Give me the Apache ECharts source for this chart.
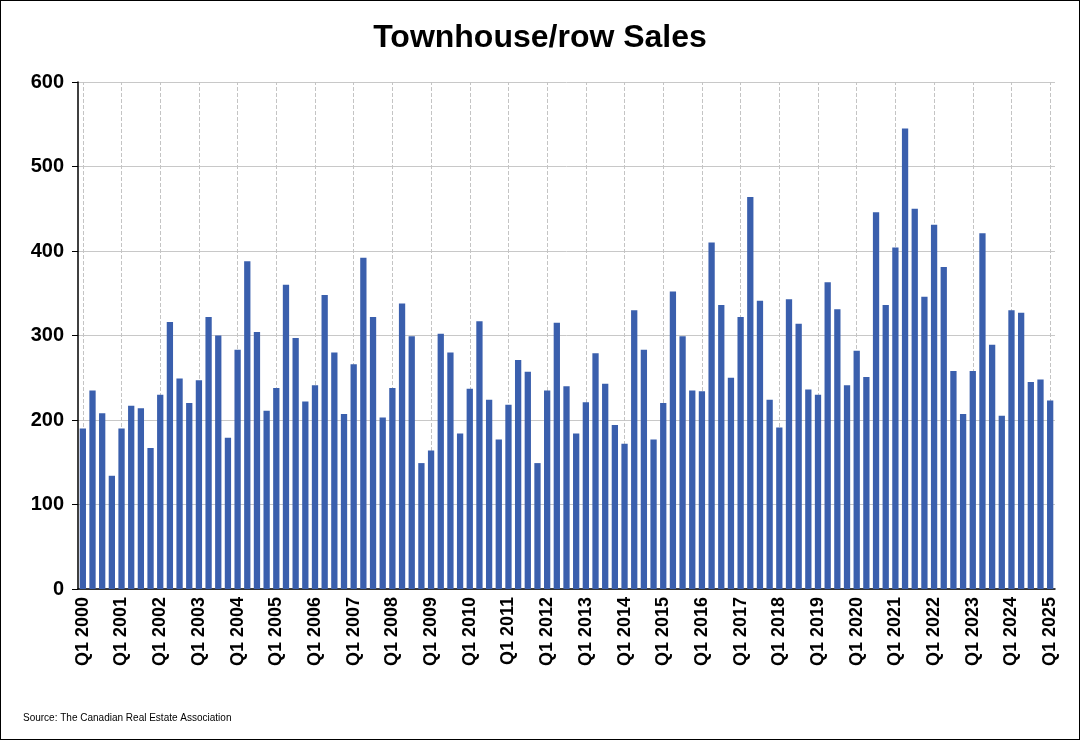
<!DOCTYPE html>
<html><head><meta charset="utf-8">
<script src="https://cdn.jsdelivr.net/npm/echarts@6/dist/echarts.min.js"></script>
<style>html,body{margin:0;padding:0;background:#fff}#c{width:1080px;height:740px;box-sizing:border-box;border:1px solid #000}</style>
</head><body><div id="c"></div>
<script>
var years = [];
for (var y = 2000; y <= 2025; y++) years.push(y);
var sales = [
  190, 235, 208, 134,
  190, 217, 214, 167,
  230, 316, 249, 220,
  247, 322, 300, 179,
  283, 388, 304, 211,
  238, 360, 297, 222,
  241, 348, 280, 207,
  266, 392, 322, 203,
  238, 338, 299, 149,
  164, 302, 280, 184,
  237, 317, 224, 177,
  218, 271, 257, 149,
  235, 315, 240, 184,
  221, 279, 243, 194,
  172, 330, 283, 177,
  220, 352, 299, 235,
  234, 410, 336, 250,
  322, 464, 341, 224,
  191, 343, 314, 236,
  230, 363, 331, 241,
  282, 251, 446, 336,
  404, 545, 450, 346,
  431, 381, 258, 207,
  258, 421, 289, 205,
  330, 327, 245, 248,
  223
];
var quarters = [];
years.forEach(function (y) {
  for (var q = 1; q <= 4; q++) quarters.push('Q' + q + ' ' + y);
});
quarters = quarters.slice(0, sales.length);
var q1Lines = quarters.filter(function (q) { return q.indexOf('Q1') === 0; })
  .map(function (q) { return { xAxis: q }; });

var chart = echarts.init(document.getElementById('c'));
chart.setOption({
  animation: false,
  textStyle: { fontFamily: 'Liberation Sans, Arial' },
  title: {
    text: 'Townhouse/row Sales', left: 'center', top: 16,
    textStyle: { fontSize: 32, fontWeight: 'bold', color: '#000' }
  },
  grid: { left: 77, right: 24, top: 81, bottom: 150 },
  graphic: [{
    type: 'text', left: 22, top: 712,
    style: { text: 'Source: The Canadian Real Estate Association', fontSize: 10, fill: '#000' }
  }],
  xAxis: {
    type: 'category', data: quarters,
    splitLine: { show: false },
    axisLine: { lineStyle: { color: '#000', width: 1.5 } },
    axisTick: { interval: 3, alignWithLabel: true, length: 6, lineStyle: { color: '#000' } },
    axisLabel: { interval: 3, rotate: 90, fontSize: 18, fontWeight: 'bold', color: '#000', margin: 8 }
  },
  yAxis: {
    type: 'value', min: 0, max: 600, interval: 100,
    axisLine: { show: true, lineStyle: { color: '#000', width: 1.5 } },
    axisTick: { show: true, length: 6, lineStyle: { color: '#000' } },
    axisLabel: { fontSize: 20, fontWeight: 'bold', color: '#000', margin: 14 },
    splitLine: { lineStyle: { color: '#c8c8c8' } }
  },
  series: [{
    type: 'line', data: [], z: 1, silent: true,
    markLine: {
      silent: true, symbol: 'none', label: { show: false }, z: 1,
      lineStyle: { color: '#c4c4c4', type: 'dashed', width: 1 },
      data: q1Lines
    }
  }, {
    type: 'bar', data: sales, barCategoryGap: '35%', z: 5,
    itemStyle: { color: '#3a5fad' }
  }]
});
</script></body></html>
